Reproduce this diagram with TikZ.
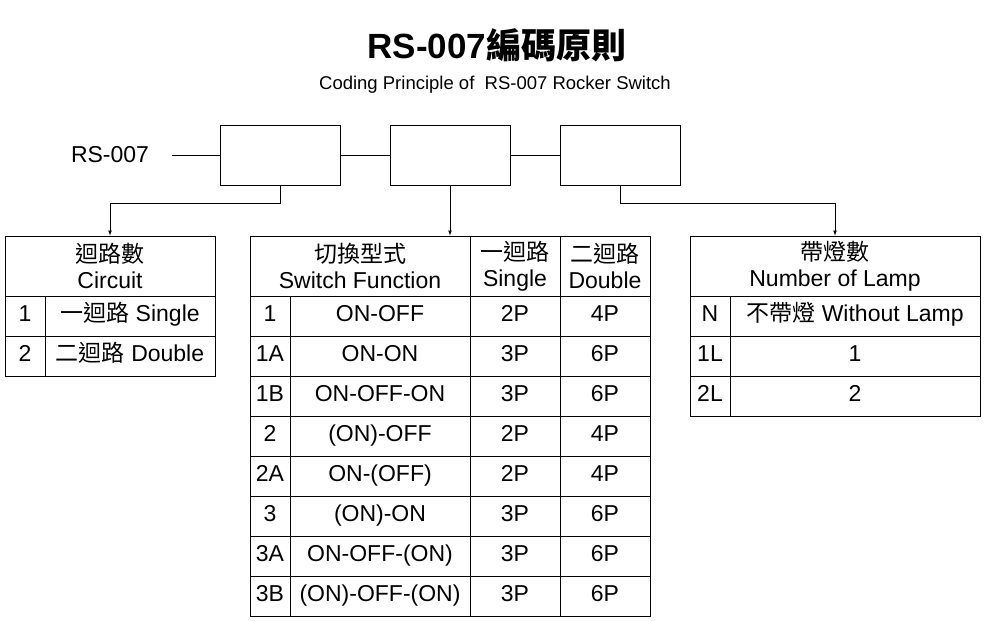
\documentclass[tikz,border=0pt]{standalone}
\usepackage{fontspec}
\setmainfont{Liberation Sans}
\newfontfamily\cjk{Noto Sans CJK TC}
\usetikzlibrary{positioning}

\begin{document}
\begin{tikzpicture}[x=1pt, y=-1pt, cell/.style={draw, line width=0.8pt, inner sep=0pt, minimum height=40pt, text height=16pt, text depth=5pt, font=\fontsize{23}{26}\selectfont}, head/.style={draw, line width=0.8pt, inner sep=0pt, minimum height=60pt, align=center, font=\fontsize{23}{26}\selectfont}, codebox/.style={draw, line width=0.8pt, minimum width=120pt, minimum height=60pt}, n/.style={-latex, line width=0.75pt}]
            \useasboundingbox (0,0) rectangle (986,621);
            % title
            \node (title) at (497,45) {\fontsize{35}{38}\selectfont\bfseries RS-007{\cjk 編碼原則}};
            \node (subtitle) at (495,85) {\fontsize{18.5}{21}\selectfont Coding Principle of~ RS-007 Rocker Switch};
            % code boxes
            \node (model) at (110,155) {\fontsize{23}{26}\selectfont RS-007};
            \node[codebox] (b1) at (280,155) {};
            \node[codebox] (b2) at (450,155) {};
            \node[codebox] (b3) at (620,155) {};
            \coordinate (m) at (172,155);
            \draw[line width=0.8pt] (m) -- (b1) -- (b2) -- (b3);
            % circuit table
            \node[head, minimum width=210pt] (ch) at (110,266) {{\cjk 迴路數}\\Circuit};
            \node[cell, minimum width=40pt] (c1) at (25,316) {1};
            \node[cell, minimum width=170pt] (c1t) at (130,316) {{\cjk 一迴路} Single};
            \node[cell, minimum width=40pt] (c2) at (25,356) {2};
            \node[cell, minimum width=170pt] (c2t) at (130,356) {{\cjk 二迴路} Double};
            % switch function table
            \node[head, minimum width=220pt] (fh) at (360,266) {{\cjk 切換型式}\\Switch Function};
            \node[head, minimum width=90pt] (sh) at (515,266) {{\cjk 一迴路}\\Single};
            \node[head, minimum width=90pt] (dh) at (605,266) {{\cjk 二迴路}\\Double};
            \foreach \c/\f/\s/\d [count=\i] in {1/ON-OFF/2P/4P, 1A/ON-ON/3P/6P, 1B/ON-OFF-ON/3P/6P, 2/(ON)-OFF/2P/4P, 2A/ON-(OFF)/2P/4P, 3/(ON)-ON/3P/6P, 3A/ON-OFF-(ON)/3P/6P, 3B/(ON)-OFF-(ON)/3P/6P} {
                \node[cell, minimum width=40pt] (fc\i) at (270,276+40*\i) {\c};
                \node[cell, minimum width=180pt] (ff\i) at (380,276+40*\i) {\f};
                \node[cell, minimum width=90pt] (fs\i) at (515,276+40*\i) {\s};
                \node[cell, minimum width=90pt] (fd\i) at (605,276+40*\i) {\d};
            }
            % lamp table
            \node[head, minimum width=290pt] (lh) at (835,266) {{\cjk 帶燈數}\\Number of Lamp};
            \foreach \c/\t [count=\i] in {N/{{\cjk 不帶燈} Without Lamp}, 1L/1, 2L/2} {
                \node[cell, minimum width=40pt] (lc\i) at (710,276+40*\i) {\c};
                \node[cell, minimum width=250pt] (lt\i) at (855,276+40*\i) {\t};
            }
            % arrows
            \draw[n] (b1.south) |- (110,203) -- (ch.north);
            \draw[n] (b2.south) -- (fh.north -| b2.south);
            \draw[n] (b3.south) |- (835,203) -- (lh.north);
        \end{tikzpicture}
\end{document}
